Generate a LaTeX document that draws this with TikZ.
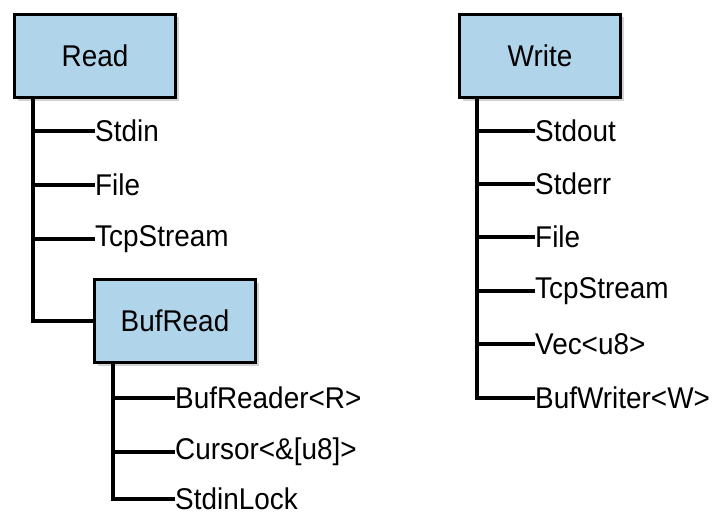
\documentclass[tikz,border=0pt]{standalone}
\usepackage{fontspec}
\setmainfont{Liberation Sans}[FakeStretch=0.93]
\usetikzlibrary{shadows}
\definecolor{boxblue}{RGB}{176,212,234}
\begin{document}
\begin{tikzpicture}[x=1pt,y=-1pt,
  box/.style={draw=black,line width=3.5pt,fill=boxblue,minimum width=161pt,minimum height=83pt,inner sep=0pt,
    drop shadow={opacity=0.35,shadow xshift=3pt,shadow yshift=-3pt},font=\fontsize{30}{33}\selectfont},
  item/.style={anchor=west,inner sep=0pt,font=\fontsize{30}{33}\selectfont},
  tree/.style={line width=3.5pt}]
\useasboundingbox (0,0) rectangle (720,527);
\node[box] (read) at (95,56) {Read};
\node[box] (write) at (540,56) {Write};
\node[box] (bufread) at (175,321) {BufRead};
\coordinate (rt) at (33,98);
\coordinate (rb) at (33,321);
\node[item] (stdin) at (95,131) {Stdin};
\node[item] (rfile) at (95,185) {File};
\node[item] (rtcp) at (95,239) {TcpStream};
\draw[tree] (rt) -- (rb) -- (bufread.west);
\foreach \n in {stdin,rfile,rtcp} \draw[tree] (rt |- \n.west) -- (\n.west);
\coordinate (bt) at (113,362);
\coordinate (bb) at (113,499);
\node[item] (bufreader) at (175,398) {BufReader<R>};
\node[item] (cursor) at (175,452) {Cursor<\&[u8]>};
\node[item] (lock) at (175,499) {StdinLock};
\draw[tree] (bt) -- (bb) -- (lock.west);
\foreach \n in {bufreader,cursor} \draw[tree] (bt |- \n.west) -- (\n.west);
\coordinate (wt) at (477,98);
\coordinate (wb) at (477,398);
\node[item] (stdout) at (535,131) {Stdout};
\node[item] (stderr) at (535,184) {Stderr};
\node[item] (wfile) at (535,237) {File};
\node[item] (wtcp) at (535,291) {TcpStream};
\node[item] (vec) at (535,344) {Vec<u8>};
\node[item] (bufwriter) at (535,398) {BufWriter<W>};
\draw[tree] (wt) -- (wb) -- (bufwriter.west);
\foreach \n in {stdout,stderr,wfile,wtcp,vec} \draw[tree] (wt |- \n.west) -- (\n.west);
\end{tikzpicture}
\end{document}
